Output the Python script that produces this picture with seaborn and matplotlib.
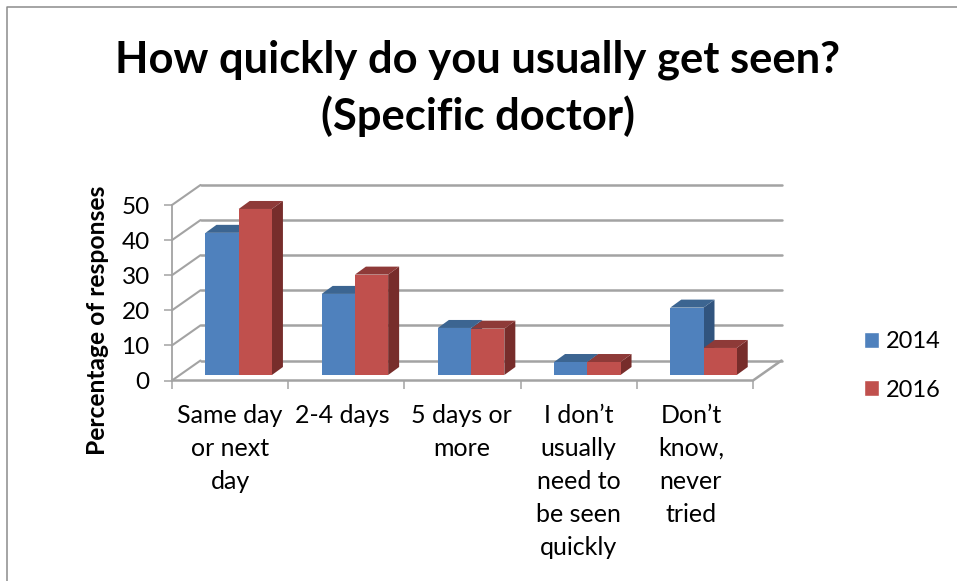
import numpy as np
import pandas as pd
import seaborn as sns
import matplotlib.pyplot as plt
from matplotlib.lines import Line2D
from matplotlib.patches import Polygon
from matplotlib.transforms import Affine2D

# Data
categories = ["Same day\nor next\nday", "2-4 days", "5 days or\nmore",
              "I don\u2019t\nusually\nneed to\nbe seen\nquickly", "Don\u2019t\nknow,\nnever\ntried"]
pct_2014 = [40.5, 23.1, 13.4, 3.7, 19.2]
pct_2016 = [47.3, 28.6, 13.2, 3.7, 7.7]
y_ticks = [0, 10, 20, 30, 40, 50]

GRIS = "#A3A3A3"
W, H = 957, 581

sns.set_theme(style="white")
plt.rcParams["font.family"] = ["Lato", "DejaVu Sans"]

df = pd.DataFrame({
    "cat": categories * 2,
    "pct": pct_2014 + pct_2016,
    "year": ["2014"] * 5 + ["2016"] * 5,
})

fig = plt.figure(figsize=(W / 100, H / 100), dpi=100)
ax = fig.add_axes([172 / W, 1 - 380.5 / H, 581 / W, 175.5 / H])

sns.barplot(data=df, x="cat", y="pct", hue="year", order=categories,
            palette=["#4F81BD", "#C0504D"], width=0.572, gap=0,
            saturation=1, ax=ax, zorder=4)
ax.set_xlim(-0.5, 4.5)
ax.set_ylim(0, 50)

# pixels -> data units for the fake 3D
px_x = 5 / 581
px_y = 50 / 175.5
caja_x, caja_y = 28.5 * px_x, 20 * px_y      # depth of the box
barra_x, barra_y = 11 * px_x, 8 * px_y       # depth of the bars
mov_x, mov_y = 8.6 * px_x, 5.5 * px_y        # bars sit in the middle of the box

# walls and floor
for v in y_ticks:
    ax.plot([-0.5, -0.5 + caja_x], [v, v + caja_y], color=GRIS, lw=1.5, clip_on=False, zorder=1)
    ax.plot([-0.5 + caja_x, 4.5 + caja_x], [v + caja_y] * 2, color=GRIS, lw=1.8, clip_on=False, zorder=1)
ax.plot([-0.5, 4.5, 4.5 + caja_x], [0, 0, caja_y], color=GRIS, lw=1.8, clip_on=False, zorder=1)

# bar faces
oscuros = [("#3C6591", "#31547E"), ("#8E3A38", "#772D2B")]
for i, cont in enumerate(ax.containers):
    for p in cont.patches:
        x0 = p.get_x() + mov_x
        x1 = x0 + p.get_width()
        alto = p.get_height() + mov_y
        p.set_x(x0)
        p.set_y(mov_y)
        p.set_linewidth(0)
        p.set_zorder(4 + i * 0.1)
        p.set_clip_on(False)
        arriba = [(x0, alto), (x1, alto), (x1 + barra_x, alto + barra_y), (x0 + barra_x, alto + barra_y)]
        lado = [(x1, mov_y), (x1 + barra_x, mov_y + barra_y), (x1 + barra_x, alto + barra_y), (x1, alto)]
        ax.add_patch(Polygon(lado, fc=oscuros[i][1], lw=0, zorder=3 + i * 0.1, clip_on=False))
        ax.add_patch(Polygon(arriba, fc=oscuros[i][0], lw=0, zorder=3 + i * 0.1, clip_on=False))

sns.despine(ax=ax, bottom=True, top=True, right=True)
ax.spines["left"].set_color(GRIS)
ax.spines["left"].set_linewidth(1.3)

ax.set_yticks(y_ticks)
ax.tick_params(axis="y", left=True, length=6, width=1.1, color=GRIS, labelsize=17.5, pad=10, labelcolor="black")
ax.set_xticks(np.arange(-0.5, 5), minor=True)
ax.tick_params(axis="x", which="minor", bottom=True, length=6, width=1.1, color=GRIS)
ax.tick_params(axis="x", which="major", bottom=False, labelsize=18, pad=11, labelcolor="black")

# Excel's wrapped labels do not sit exactly on the category centre
desvio = [0, -3.5, -1, 0, -4]
for t, d in zip(ax.get_xticklabels(), desvio):
    t.set_linespacing(1.52)
    t.set_verticalalignment("top")
    t.set_transform(t.get_transform() + Affine2D().translate(d, 0))

ax.set_xlabel("")
ax.set_ylabel("Percentage of responses", fontsize=17.7, fontweight="bold", color="black")
ax.yaxis.set_label_coords((109 - 172) / 581, (380.5 - 320) / 175.5)

# legend
handles = [plt.Rectangle((0, 0), 1, 1, fc=c) for c in ["#4F81BD", "#C0504D"]]
ax.get_legend().remove()
fig.legend(handles, ["2014", "2016"], loc="center left", bbox_to_anchor=(852 / W, 1 - 366 / H),
           frameon=False, fontsize=17, handlelength=0.65, handleheight=0.65,
           handletextpad=0.3, labelspacing=1.15, borderpad=0, labelcolor="black")

# title
fig.text(478 / W, 1 - 88 / H, "How quickly do you usually get seen?\n(Specific doctor)",
         ha="center", va="center", fontsize=31.3, fontweight="bold", color="black", linespacing=1.45)

# chart border, cut off at the right and bottom
fig.add_artist(Line2D([7 / W, 7 / W, 1], [0, 1 - 7 / H, 1 - 7 / H], color="#8C8C8C", lw=1.1))

fig.savefig("out.png", dpi=100)
